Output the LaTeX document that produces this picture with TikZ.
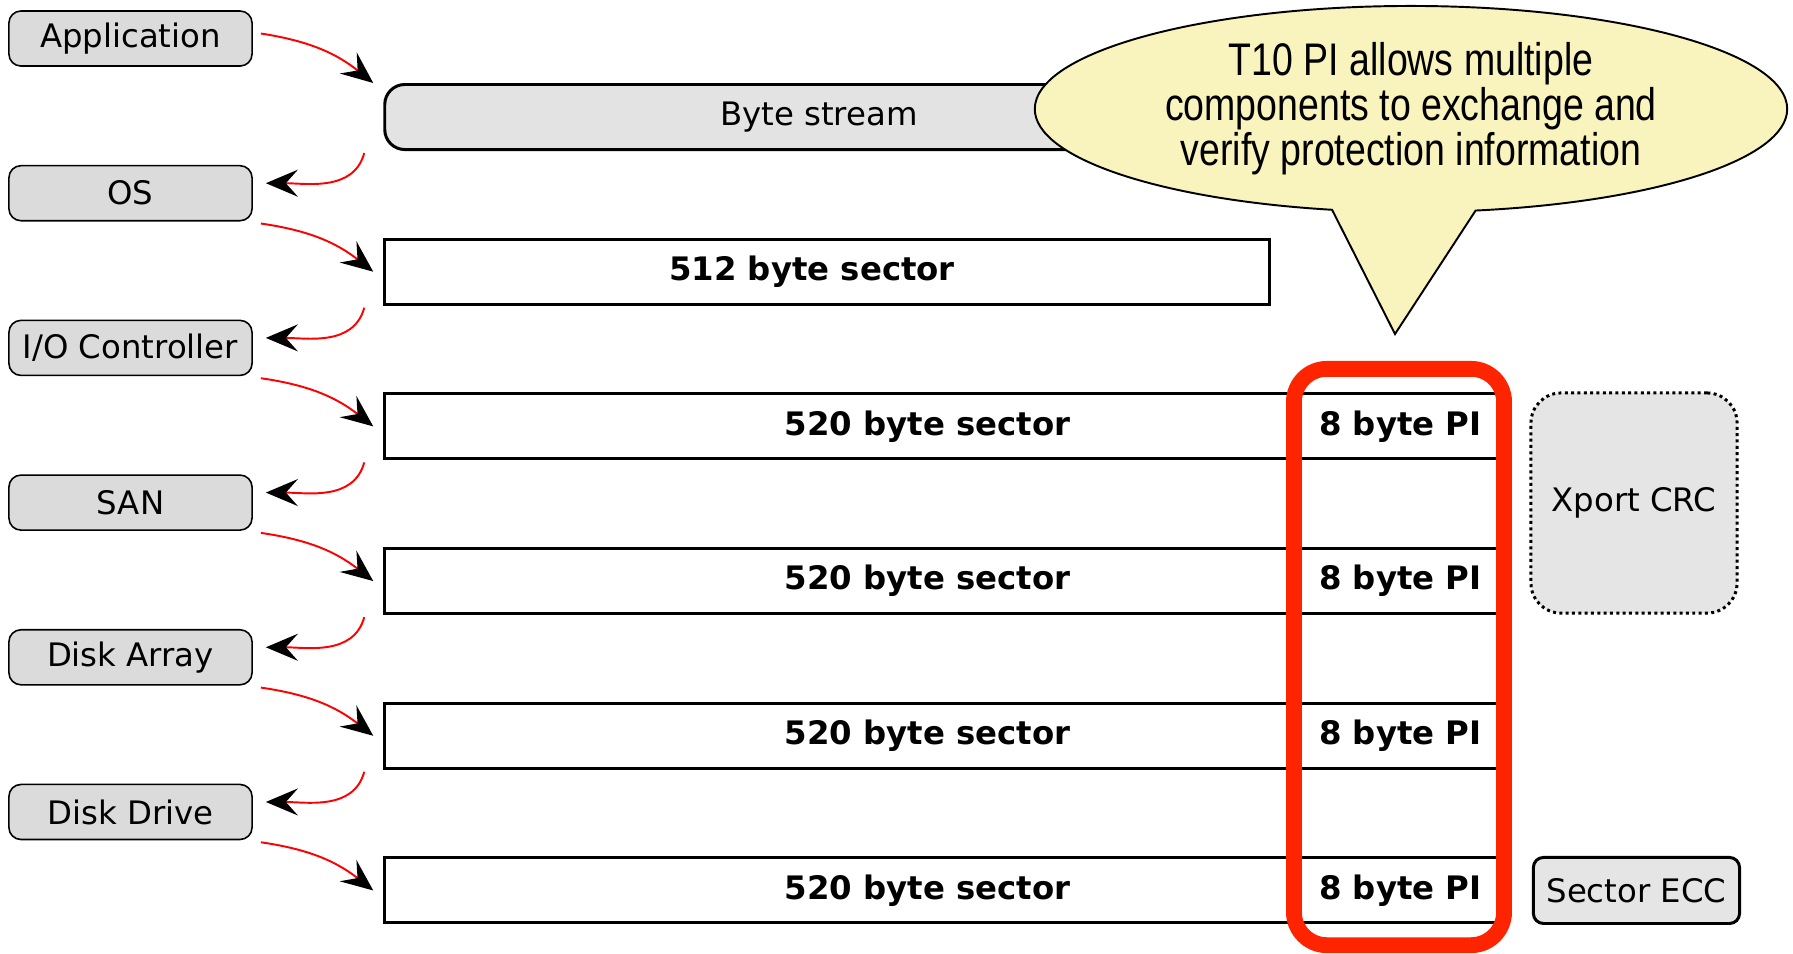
\documentclass[tikz,border=0pt]{standalone}
\usepackage{fontspec}
\setmainfont{DejaVu Sans}
\newfontfamily\calloutfont[FakeStretch=0.82]{Liberation Sans}
\usepackage{tikz}
\usetikzlibrary{shapes.callouts, arrows.meta, positioning}
\definecolor{layergray}{RGB}{219,219,219}
\definecolor{streamgray}{RGB}{227,227,227}
\definecolor{notegray}{RGB}{229,229,229}
\definecolor{calloutyellow}{RGB}{249,244,189}
\definecolor{pired}{RGB}{255,36,0}
\tikzstyle{layer} = [rectangle, rounded corners=0.12cm, minimum width=2.43cm, minimum height=0.55cm, draw=black, line width=0.45pt, fill=layergray, font=\fontsize{9.2}{11}\selectfont]
\tikzstyle{stream} = [rectangle, rounded corners=0.2cm, minimum width=8.68cm, minimum height=0.65cm, draw=black, line width=0.85pt, fill=streamgray, font=\fontsize{9.2}{11}\selectfont]
\tikzstyle{sector} = [rectangle, minimum width=11.15cm, minimum height=0.65cm, draw=black, line width=0.85pt, fill=white, font=\fontsize{9.2}{11}\selectfont\bfseries]
\tikzstyle{piblock} = [rectangle, minimum width=2cm, minimum height=0.65cm, draw=black, line width=0.85pt, fill=white, font=\fontsize{9.2}{11}\selectfont\bfseries]
\tikzstyle{note} = [rectangle, minimum width=2.06cm, draw=black, line width=0.85pt, fill=notegray, font=\fontsize{9.2}{11}\selectfont]
\tikzstyle{arrow} = [draw=red, line width=0.55pt, -{Stealth[color=black, length=0.32cm, width=0.27cm, inset=0.12cm]}]
\newcommand{\lpad}{\hspace*{0.3cm}}

\begin{document}
\begin{tikzpicture}[x=0.01cm, y=-0.01cm, node distance=1.546cm]
\useasboundingbox (0,0) rectangle (1793,953);
% components on the left
\node (app) [layer] at (130.5,38.5) {Application};
\node (os) [layer, below of=app] {OS};
\node (ioc) [layer, below of=os] {I/O Controller};
\node (san) [layer, below of=ioc] {SAN};
\node (array) [layer, below of=san] {Disk Array};
\node (drive) [layer, below of=array] {Disk Drive};
% data as seen by each component
\node (stream) [stream] at (819,117) {Byte stream};
\node (s512) [sector, minimum width=8.84cm, below of=stream, xshift=0.08cm] {512 byte sector\lpad};
\node (s520a) [sector, below of=s512, xshift=1.155cm] {520 byte sector\lpad};
\node (s520b) [sector, below of=s520a] {520 byte sector\lpad};
\node (s520c) [sector, below of=s520b] {520 byte sector\lpad};
\node (s520d) [sector, below of=s520c] {520 byte sector\lpad};
\node (pia) [piblock, anchor=east] at (s520a.east) {8 byte PI};
\node (pib) [piblock, anchor=east] at (s520b.east) {8 byte PI};
\node (pic) [piblock, anchor=east] at (s520c.east) {8 byte PI};
\node (pid) [piblock, anchor=east] at (s520d.east) {8 byte PI};
\node (piframe) [draw=pired, line width=4.5pt, rounded corners=0.33cm, minimum width=2.1cm, minimum height=5.76cm] at (1399,657) {};
\node (crc) [note, minimum height=2.2cm, rounded corners=0.3cm, dash pattern=on 0.85pt off 0.95pt] at (1634,503) {Xport CRC};
\node (ecc) [note, minimum height=0.66cm, rounded corners=0.1cm, right=0.3cm of s520d] {Sector ECC};
% the callout
\node (bubble) [ellipse callout, draw=black, line width=0.55pt, fill=calloutyellow, minimum width=7.52cm, minimum height=2.06cm, inner sep=0pt, align=center, font=\calloutfont\fontsize{13}{12.8}\selectfont, callout absolute pointer={(1395,334)}, callout pointer arc=22] at (1411,109) {T10 PI allows multiple\\components to exchange and\\verify protection information};
% hand over, down the stack
\draw[arrow] ([xshift=0.08cm, yshift=0.05cm]app.east) to[bend left=15] ([xshift=-0.1cm]stream.north west);
\draw[arrow] ([xshift=-0.19cm, yshift=-0.02cm]stream.south west) to[out=-105, in=0] ([xshift=0.13cm, yshift=0.1cm]os.east);
\draw[arrow] ([xshift=0.08cm, yshift=-0.02cm]os.south east) to[bend left=15] ([xshift=-0.1cm]s512.west);
\draw[arrow] ([xshift=-0.19cm, yshift=-0.02cm]s512.south west) to[out=-105, in=0] ([xshift=0.13cm, yshift=0.1cm]ioc.east);
\draw[arrow] ([xshift=0.08cm, yshift=-0.02cm]ioc.south east) to[bend left=15] ([xshift=-0.1cm]s520a.west);
\draw[arrow] ([xshift=-0.19cm, yshift=-0.02cm]s520a.south west) to[out=-105, in=0] ([xshift=0.13cm, yshift=0.1cm]san.east);
\draw[arrow] ([xshift=0.08cm, yshift=-0.02cm]san.south east) to[bend left=15] ([xshift=-0.1cm]s520b.west);
\draw[arrow] ([xshift=-0.19cm, yshift=-0.02cm]s520b.south west) to[out=-105, in=0] ([xshift=0.13cm, yshift=0.1cm]array.east);
\draw[arrow] ([xshift=0.08cm, yshift=-0.02cm]array.south east) to[bend left=15] ([xshift=-0.1cm]s520c.west);
\draw[arrow] ([xshift=-0.19cm, yshift=-0.02cm]s520c.south west) to[out=-105, in=0] ([xshift=0.13cm, yshift=0.1cm]drive.east);
\draw[arrow] ([xshift=0.08cm, yshift=-0.02cm]drive.south east) to[bend left=15] ([xshift=-0.1cm]s520d.west);
\end{tikzpicture}
\end{document}
